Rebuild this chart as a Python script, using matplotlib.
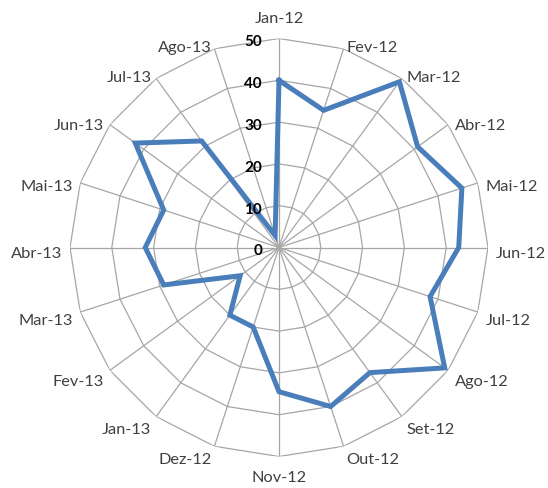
import numpy as np
import matplotlib
matplotlib.use("Agg")
import matplotlib.pyplot as plt

# Categories (months) and values
months = ["Jan-12", "Fev-12", "Mar-12", "Abr-12", "Mai-12", "Jun-12", "Jul-12",
          "Ago-12", "Set-12", "Out-12", "Nov-12", "Dez-12", "Jan-13", "Fev-13",
          "Mar-13", "Abr-13", "Mai-13", "Jun-13", "Jul-13", "Ago-13"]
values = [40, 34.5, 49, 41, 46, 43, 38, 49, 37, 40, 34.5, 20, 20, 11.5,
          29, 32, 29, 42.5, 31.5, 3]
ticks = [0, 10, 20, 30, 40, 50]

plt.rcParams['font.family'] = ['Lato', 'DejaVu Sans']

fig = plt.figure(figsize=(5.48, 4.89), dpi=100)
# axes centred at (279, 248.5) px from top-left, radius ~209 px
rad_px = 209
cx, cy = 279, 489 - 248.5
ax = fig.add_axes([(cx - rad_px) / 548, (cy - rad_px) / 489,
                   2 * rad_px / 548, 2 * rad_px / 489], projection='polar')
ax.set_theta_zero_location('N')
ax.set_theta_direction(-1)
ax.set_ylim(0, 50)
ax.grid(False)
ax.spines['polar'].set_visible(False)
ax.set_xticks([])
ax.set_yticks([])
ax.patch.set_alpha(0)

n = len(months)
theta = np.arange(n) * 2 * np.pi / n
theta_closed = np.append(theta, theta[0])

grid_color = '#A6A6A6'
# polygon rings
for t in ticks[1:]:
    ax.plot(theta_closed, [t] * (n + 1), color=grid_color, lw=0.9, zorder=1)
# spokes
for th in theta:
    ax.plot([th, th], [0, 50], color=grid_color, lw=0.9, zorder=1)

# data line
vals_closed = values + [values[0]]
ax.plot(theta_closed, vals_closed, color='#4A7EBB', lw=3.6,
        solid_joinstyle='miter', zorder=3)

# category labels
for th, lab in zip(theta, months):
    s, c = np.sin(th), np.cos(th)
    if abs(s) < 0.1:
        ha = 'center'
        va = 'bottom' if c > 0 else 'top'
        off = (0, 13 * np.sign(c))
    else:
        ha = 'left' if s > 0 else 'right'
        va = 'center_baseline'
        off = (8 * s, 8 * c - 4)
    ax.annotate(lab, xy=(th, 50), xytext=off, textcoords='offset pixels',
                ha=ha, va=va, fontsize=11.8, color='#404040', annotation_clip=False)

# radial tick labels
for t in ticks:
    ax.annotate(str(t), xy=(0, t), xytext=(-17, -3), textcoords='offset pixels',
                ha='right', va='center', fontsize=11, fontweight='bold',
                color='#000000', annotation_clip=False)

fig.savefig('out.png', dpi=100)
